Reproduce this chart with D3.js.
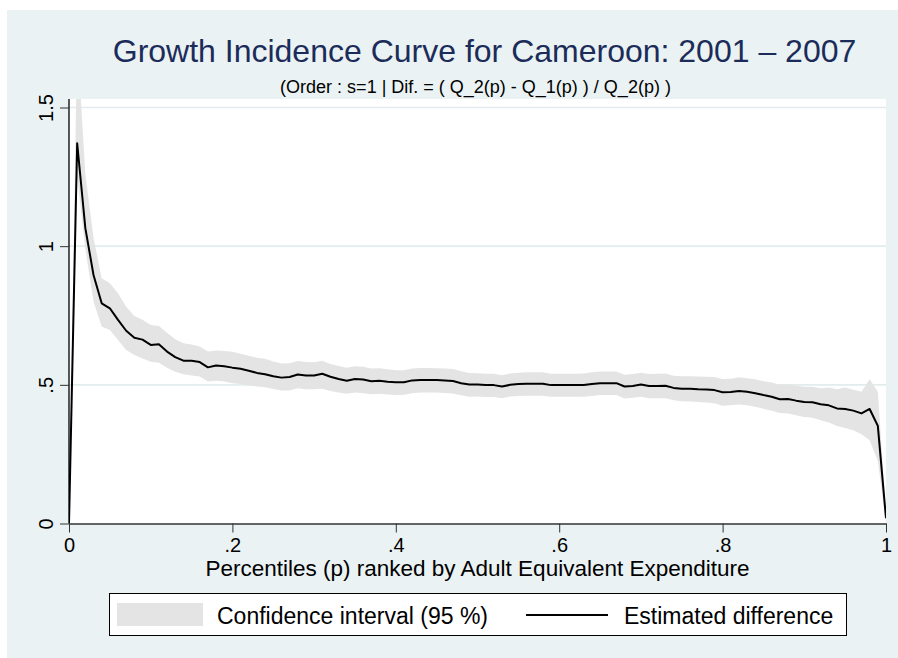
<!DOCTYPE html>
<html>
<head>
<meta charset="utf-8">
<script src="https://cdn.jsdelivr.net/npm/d3@7"></script>
<style>
  html, body { margin: 0; padding: 0; background: #ffffff; }
  svg { display: block; font-family: "Liberation Sans", Arial, sans-serif; }
</style>
</head>
<body>
<svg id="chart" width="898" height="658"></svg>
<script>
// Percentile grid p
const percentiles = [
  0.00, 0.01, 0.02, 0.03, 0.04, 0.05, 0.06, 0.07, 0.08, 0.09,
  0.10, 0.11, 0.12, 0.13, 0.14, 0.15, 0.16, 0.17, 0.18, 0.19,
  0.20, 0.21, 0.22, 0.23, 0.24, 0.25, 0.26, 0.27, 0.28, 0.29,
  0.30, 0.31, 0.32, 0.33, 0.34, 0.35, 0.36, 0.37, 0.38, 0.39,
  0.40, 0.41, 0.42, 0.43, 0.44, 0.45, 0.46, 0.47, 0.48, 0.49,
  0.50, 0.51, 0.52, 0.53, 0.54, 0.55, 0.56, 0.57, 0.58, 0.59,
  0.60, 0.61, 0.62, 0.63, 0.64, 0.65, 0.66, 0.67, 0.68, 0.69,
  0.70, 0.71, 0.72, 0.73, 0.74, 0.75, 0.76, 0.77, 0.78, 0.79,
  0.80, 0.81, 0.82, 0.83, 0.84, 0.85, 0.86, 0.87, 0.88, 0.89,
  0.90, 0.91, 0.92, 0.93, 0.94, 0.95, 0.96, 0.97, 0.98, 0.99,
  1.00
];

// Estimated difference (Q_2(p) - Q_1(p)) / Q_2(p)
const estimatedDifference = [
  0.000, 1.371, 1.065, 0.896, 0.794, 0.776, 0.734, 0.695, 0.670, 0.663,
  0.644, 0.646, 0.620, 0.600, 0.587, 0.587, 0.582, 0.563, 0.570, 0.567,
  0.562, 0.558, 0.551, 0.543, 0.538, 0.531, 0.526, 0.528, 0.537, 0.534,
  0.534, 0.540, 0.529, 0.521, 0.515, 0.521, 0.519, 0.513, 0.515, 0.511,
  0.509, 0.509, 0.516, 0.517, 0.517, 0.517, 0.516, 0.514, 0.506, 0.501,
  0.501, 0.499, 0.499, 0.494, 0.500, 0.503, 0.504, 0.504, 0.504, 0.499,
  0.499, 0.499, 0.499, 0.499, 0.503, 0.506, 0.506, 0.506, 0.494, 0.496,
  0.501, 0.496, 0.496, 0.497, 0.489, 0.486, 0.486, 0.484, 0.483, 0.481,
  0.473, 0.474, 0.478, 0.475, 0.470, 0.463, 0.457, 0.448, 0.449, 0.443,
  0.438, 0.437, 0.430, 0.426, 0.415, 0.413, 0.407, 0.397, 0.413, 0.352,
  0.019
];

// 95 % confidence interval, lower bound
const ciLower = [
  0.000, 1.250, 0.990, 0.800, 0.710, 0.698, 0.662, 0.626, 0.608, 0.595,
  0.583, 0.580, 0.562, 0.547, 0.538, 0.534, 0.530, 0.512, 0.515, 0.512,
  0.506, 0.503, 0.498, 0.494, 0.491, 0.485, 0.480, 0.480, 0.488, 0.484,
  0.484, 0.486, 0.478, 0.472, 0.468, 0.472, 0.470, 0.466, 0.468, 0.465,
  0.463, 0.464, 0.470, 0.472, 0.472, 0.472, 0.471, 0.469, 0.462, 0.457,
  0.458, 0.456, 0.456, 0.452, 0.458, 0.460, 0.461, 0.461, 0.461, 0.457,
  0.457, 0.457, 0.457, 0.457, 0.460, 0.463, 0.463, 0.463, 0.451, 0.453,
  0.457, 0.452, 0.452, 0.452, 0.444, 0.441, 0.440, 0.438, 0.436, 0.434,
  0.425, 0.426, 0.429, 0.426, 0.421, 0.414, 0.407, 0.398, 0.397, 0.390,
  0.384, 0.381, 0.372, 0.364, 0.352, 0.344, 0.336, 0.322, 0.300, 0.225,
  0.000
];

// 95 % confidence interval, upper bound
const ciUpper = [
  0.000, 1.750, 1.260, 1.030, 0.884, 0.866, 0.830, 0.782, 0.748, 0.735,
  0.716, 0.712, 0.688, 0.664, 0.650, 0.645, 0.638, 0.620, 0.624, 0.622,
  0.619, 0.612, 0.605, 0.598, 0.594, 0.584, 0.577, 0.578, 0.586, 0.582,
  0.581, 0.587, 0.575, 0.568, 0.562, 0.567, 0.565, 0.559, 0.560, 0.556,
  0.553, 0.553, 0.559, 0.561, 0.561, 0.560, 0.559, 0.557, 0.549, 0.543,
  0.542, 0.540, 0.540, 0.535, 0.541, 0.544, 0.545, 0.545, 0.545, 0.540,
  0.540, 0.540, 0.540, 0.541, 0.545, 0.548, 0.548, 0.548, 0.536, 0.539,
  0.544, 0.539, 0.540, 0.541, 0.533, 0.531, 0.531, 0.530, 0.529, 0.528,
  0.521, 0.522, 0.527, 0.524, 0.520, 0.513, 0.508, 0.500, 0.502, 0.497,
  0.493, 0.493, 0.488, 0.490, 0.484, 0.490, 0.482, 0.475, 0.520, 0.475,
  0.035
];

const xTickValues = [0, 0.2, 0.4, 0.6, 0.8, 1];
const xTickLabels = ["0", ".2", ".4", ".6", ".8", "1"];
const yTickValues = [0, 0.5, 1, 1.5];
const yTickLabels = ["0", ".5", "1", "1.5"];
const gridValues = [0.5, 1, 1.5];

const titleText = "Growth Incidence Curve for Cameroon: 2001 \u2013 2007";
const subtitleText = "(Order : s=1 | Dif. = ( Q_2(p) - Q_1(p) ) / Q_2(p) )";
const xAxisTitle = "Percentiles (p) ranked by Adult Equivalent Expenditure";
const legendLabels = ["Confidence interval (95 %)", "Estimated difference"];

const rows = percentiles.map((p, i) => ({
  p, est: estimatedDifference[i], lo: ciLower[i], hi: ciUpper[i]
}));

const svg = d3.select("#chart");

// Graph region background
svg.append("rect")
  .attr("x", 7).attr("y", 10).attr("width", 891).attr("height", 648)
  .attr("fill", "#eaf2f3");

// Plot region
const plot = { left: 69, right: 886, top: 99, bottom: 523.5 };
svg.append("rect")
  .attr("x", plot.left).attr("y", plot.top)
  .attr("width", plot.right - plot.left).attr("height", plot.bottom - plot.top)
  .attr("fill", "#ffffff");

const x = d3.scaleLinear().domain([0, 1]).range([plot.left, plot.right]);
const y = d3.scaleLinear().domain([0, 1.5]).range([plot.bottom, 107.5]);

svg.append("clipPath").attr("id", "plot-clip")
  .append("rect")
  .attr("x", plot.left).attr("y", plot.top)
  .attr("width", plot.right - plot.left).attr("height", plot.bottom - plot.top);

// Horizontal grid lines
svg.append("g").selectAll("line")
  .data(gridValues)
  .join("line")
  .attr("x1", plot.left).attr("x2", plot.right)
  .attr("y1", d => y(d)).attr("y2", d => y(d))
  .attr("stroke", "#e3eced").attr("stroke-width", 1.6);

const marks = svg.append("g").attr("clip-path", "url(#plot-clip)");

// Confidence band
marks.append("path")
  .datum(rows)
  .attr("fill", "#e4e4e4")
  .attr("d", d3.area().x(d => x(d.p)).y0(d => y(d.lo)).y1(d => y(d.hi)));

// Estimated difference curve
marks.append("path")
  .datum(rows)
  .attr("fill", "none")
  .attr("stroke", "#000000")
  .attr("stroke-width", 2)
  .attr("stroke-linejoin", "round")
  .attr("d", d3.line().x(d => x(d.p)).y(d => y(d.est)));

// X axis
const xAxis = svg.append("g")
  .attr("transform", `translate(0,${plot.bottom})`)
  .call(d3.axisBottom(x)
    .tickValues(xTickValues)
    .tickFormat((d, i) => xTickLabels[i])
    .tickSizeInner(9).tickSizeOuter(0));
xAxis.select(".domain").attr("stroke", "#333333").attr("stroke-width", 1.6);
xAxis.selectAll(".tick line").attr("stroke", "#333333").attr("stroke-width", 1);
xAxis.selectAll(".tick text")
  .attr("y", 28).attr("dy", null)
  .attr("font-size", 20).attr("fill", "#000000")
  .attr("font-family", "Liberation Sans, Arial, sans-serif");

// Y axis with vertical tick labels
const yAxis = svg.append("g")
  .attr("transform", `translate(${plot.left},0)`)
  .call(d3.axisLeft(y)
    .tickValues(yTickValues)
    .tickFormat((d, i) => yTickLabels[i])
    .tickSizeInner(9).tickSizeOuter(0));
yAxis.select(".domain")
  .attr("d", `M0,${plot.top}V${plot.bottom}`)
  .attr("stroke", "#000000").attr("stroke-width", 1.3);
yAxis.selectAll(".tick line").attr("stroke", "#333333").attr("stroke-width", 1);
yAxis.selectAll(".tick text")
  .attr("x", null).attr("dy", null)
  .attr("text-anchor", "middle")
  .attr("transform", "translate(-16,0) rotate(-90)")
  .attr("font-size", 20).attr("fill", "#000000")
  .attr("font-family", "Liberation Sans, Arial, sans-serif");

// Titles
svg.append("text")
  .attr("x", 484.5).attr("y", 62.4)
  .attr("text-anchor", "middle")
  .attr("font-size", 32).attr("fill", "#1c2c5a")
  .text(titleText);

svg.append("text")
  .attr("x", 475.5).attr("y", 93)
  .attr("text-anchor", "middle")
  .attr("font-size", 18).attr("fill", "#000000")
  .text(subtitleText);

svg.append("text")
  .attr("x", (plot.left + plot.right) / 2).attr("y", 576)
  .attr("text-anchor", "middle")
  .attr("font-size", 22.5).attr("fill", "#000000")
  .text(xAxisTitle);

// Legend
const legend = svg.append("g");
legend.append("rect")
  .attr("x", 109.5).attr("y", 593.5).attr("width", 737).attr("height", 42)
  .attr("fill", "#ffffff").attr("stroke", "#000000").attr("stroke-width", 1);
legend.append("rect")
  .attr("x", 117).attr("y", 603).attr("width", 86).attr("height", 23)
  .attr("fill", "#e4e4e4");
legend.append("text")
  .attr("x", 217).attr("y", 624)
  .attr("font-size", 23).attr("fill", "#000000")
  .text(legendLabels[0]);
legend.append("line")
  .attr("x1", 526).attr("x2", 608).attr("y1", 615).attr("y2", 615)
  .attr("stroke", "#000000").attr("stroke-width", 2);
legend.append("text")
  .attr("x", 624).attr("y", 624)
  .attr("font-size", 23).attr("fill", "#000000")
  .text(legendLabels[1]);
</script>
</body>
</html>
